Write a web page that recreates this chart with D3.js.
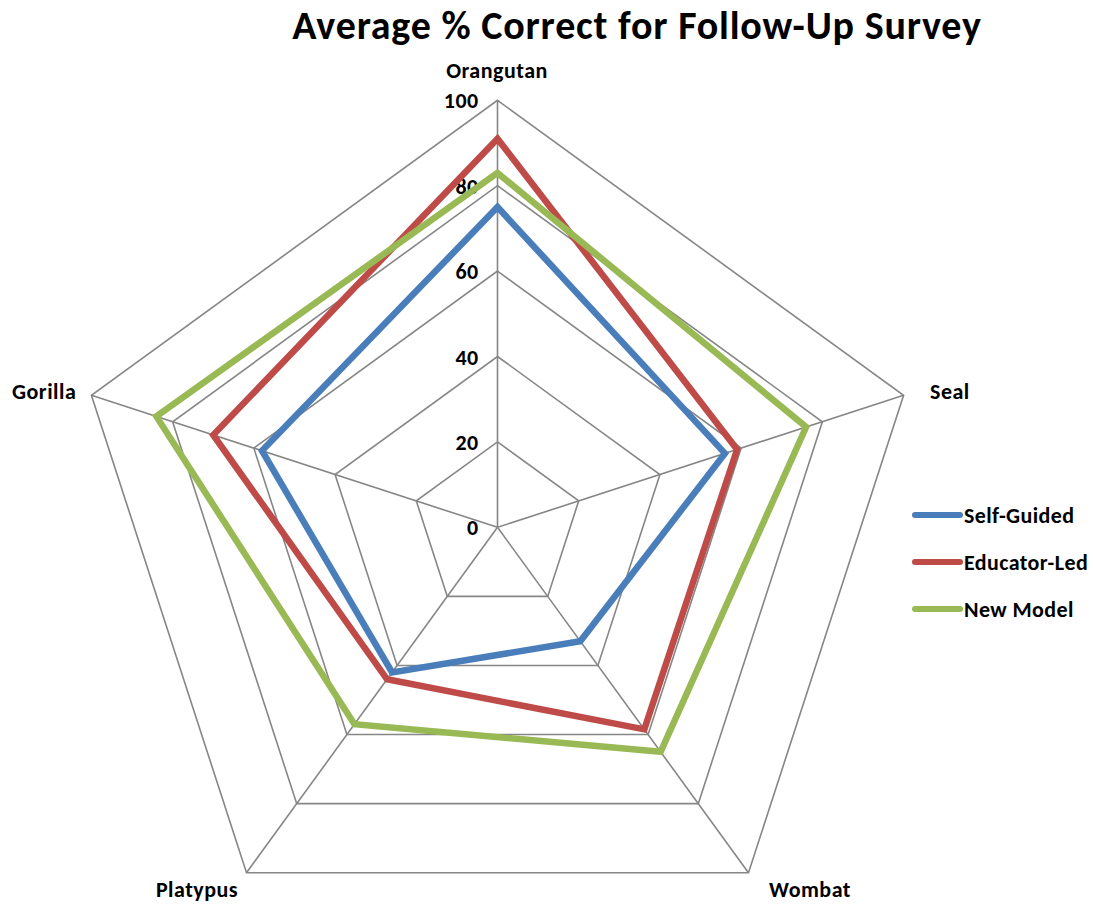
<!DOCTYPE html>
<html><head><meta charset="utf-8">
<script src="https://cdn.jsdelivr.net/npm/d3@7"></script>
<style>body{margin:0;background:#fff;} svg{display:block;}</style>
</head><body>
<svg id="chart" width="1093" height="904"></svg>
<script>
const categories = ["Orangutan", "Seal", "Wombat", "Platypus", "Gorilla"];
const seriesNames = ["Self-Guided", "Educator-Led", "New Model"];
const selfGuided = [75, 56, 33, 42, 58];
const educatorLed = [91, 59, 58.5, 44, 70];
const newModel = [83, 76, 65, 57, 84];
const tickValues = [0, 20, 40, 60, 80, 100];
const colors = ["#4a7ebb", "#be4b48", "#98b954"];
const title = "Average % Correct for Follow-Up Survey";

const font = "Carlito, 'Open Sans', 'Noto Sans', sans-serif";
const svg = d3.select("#chart");
const cx = 497.5, cy = 527.3, R = 427;
const r = d3.scaleLinear().domain([0, 100]).range([0, R]);
const angle = d3.scaleLinear().domain([0, categories.length]).range([0, 2 * Math.PI]);
const pt = (i, v) => [cx + r(v) * Math.sin(angle(i)), cy - r(v) * Math.cos(angle(i))];

// grid rings
const grid = svg.append("g");
tickValues.filter(t => t > 0).forEach(t => {
  grid.append("path")
    .attr("d", d3.line()(categories.map((c, i) => pt(i, t))) + "Z")
    .attr("fill", "none").attr("stroke", "#868686").attr("stroke-width", 1.6);
});
categories.forEach((c, i) => {
  const [x, y] = pt(i, 100);
  grid.append("line").attr("x1", cx).attr("y1", cy).attr("x2", x).attr("y2", y)
    .attr("stroke", "#868686").attr("stroke-width", 1.6);
});

// tick labels
tickValues.forEach(t => {
  svg.append("text").attr("x", cx - 19).attr("y", cy - r(t) + 8)
    .attr("text-anchor", "end").attr("font-family", font).attr("font-weight", "bold")
    .attr("font-size", 22).attr("letter-spacing", 0.4).attr("fill", "#000").text(t);
});

// series
const data = [selfGuided, educatorLed, newModel];
data.forEach((vals, s) => {
  svg.append("path")
    .attr("d", d3.line()(vals.map((v, i) => pt(i, v))) + "Z")
    .attr("fill", "none").attr("stroke", colors[s]).attr("stroke-width", 6.5)
    .attr("stroke-linejoin", "miter");
});

// category labels
const labelPos = [
  {x: 497, y: 78, a: "middle"},
  {x: 930, y: 399, a: "start"},
  {x: 810, y: 897, a: "middle"},
  {x: 197, y: 897, a: "middle"},
  {x: 12, y: 399, a: "start"}
];
categories.forEach((c, i) => {
  svg.append("text").attr("x", labelPos[i].x).attr("y", labelPos[i].y)
    .attr("text-anchor", labelPos[i].a).attr("font-family", font).attr("font-weight", "bold")
    .attr("font-size", 22).attr("letter-spacing", 0.5).attr("fill", "#000").text(c);
});

// title
svg.append("text").attr("x", 637).attr("y", 39).attr("text-anchor", "middle")
  .attr("font-family", font).attr("font-weight", "bold").attr("font-size", 40)
  .attr("letter-spacing", 0.8).attr("fill", "#000").text(title);

// legend
const ly = d3.scalePoint().domain(seriesNames).range([515, 609]);
seriesNames.forEach((n, s) => {
  svg.append("line").attr("x1", 915).attr("x2", 960).attr("y1", ly(n)).attr("y2", ly(n))
    .attr("stroke", colors[s]).attr("stroke-width", 6).attr("stroke-linecap", "round");
  svg.append("text").attr("x", 964).attr("y", ly(n) + 8).attr("font-family", font)
    .attr("font-weight", "bold").attr("font-size", 22).attr("letter-spacing", 0.4)
    .attr("fill", "#000").text(n);
});
</script>
</body></html>
